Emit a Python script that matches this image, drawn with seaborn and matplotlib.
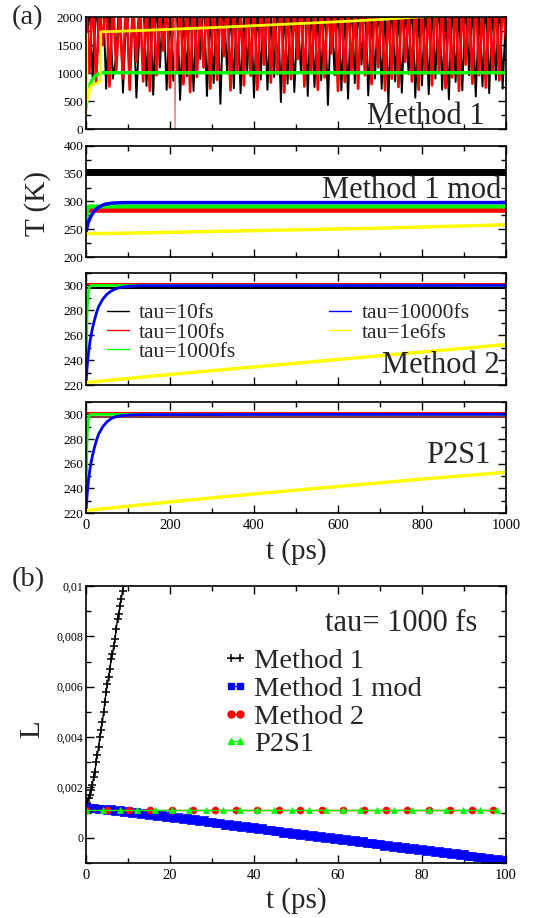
import numpy as np
import matplotlib
matplotlib.use("Agg")
import matplotlib.pyplot as plt
from matplotlib.lines import Line2D
from matplotlib.ticker import MultipleLocator
import seaborn as sns

# ---------------- data ----------------
# Panel (a) Method 1 : spiky thermostat traces
m1_black = [950, 2400, 880, 2300, 1350, 2500, 720, 2200, 900, 1300, 2450, 650, 2100, 980, 2350, 560,
            1900, 2500, 770, 2250, 610, 2400, 1100, 2300, 700, 2150, 860, 2450, 520, 2050, 940, 2350,
            680, 2200, 1250, 2500, 590, 2100, 820, 2400, 450, 2300, 990, 2150, 730, 2450, 640, 2000,
            1050, 2350, 560, 2250, 880, 2400, 700, 2100, 930, 2500, 480, 2200, 810, 2350, 660, 2050,
            1000, 2450, 590, 2300, 750, 2150, 870, 2400, 430, 2200, 960, 2350, 690, 2100, 540, 2450,
            820, 2250, 1150, 2400, 600, 2050, 900, 2350, 720, 2200, 460, 2450, 850, 2150, 650, 2300,
            980, 2400, 560, 2100, 780, 2350, 620, 2250, 900, 2450, 700, 2100, 530, 2350, 840, 2200,
            690, 2400, 960, 2300, 580, 2150, 760, 2450, 640, 2250, 880, 2400, 720, 2100]
m1_red = [2300, 1000, 2450, 820, 2200, 1500, 2400, 760, 2350, 1050, 2150, 900, 2500, 700, 2300, 1200,
          2400, 850, 2250, 680, 2450, 960, 2100, 1400, 2350, 740, 2200, 1000, 2400, 800, 2300, 660,
          2500, 930, 2150, 1100, 2350, 720, 2450, 880, 2200, 1300, 2400, 690, 2300, 1020, 2150, 780,
          2450, 950, 2350, 700, 2250, 1150, 2400, 830, 2100, 980, 2450, 650, 2300, 890, 2200, 1250,
          2400, 760, 2350, 1000, 2150, 700, 2450, 920, 2300, 1350, 2200, 680, 2400, 840, 2350, 1050,
          2150, 720, 2450, 960, 2250, 800, 2400, 1100, 2300, 690, 2200, 900, 2450, 750, 2350, 1200,
          2150, 850, 2400, 700, 2300, 990, 2200, 780, 2450, 1050, 2350, 730, 2150, 920, 2400, 680,
          2300, 1150, 2250, 810, 2450, 960, 2200, 740, 2350, 1000, 2400, 870, 2300, 1600]
m1_reddip_t = [210, 212, 214]
m1_reddip_T = [2100, 0, 2100]
m1_green_t = [0, 3, 6, 10, 15, 20, 25, 32, 40, 1000]
m1_green_T = [390, 560, 700, 800, 880, 930, 965, 995, 1005, 1005]
m1_yellow_t = [0, 1, 2, 3, 5, 8, 12, 18, 25, 32, 34, 35, 100, 200, 300, 400, 500, 600, 700, 790, 1000]
m1_yellow_T = [300, 1700, 900, 500, 560, 680, 770, 800, 810, 850, 860, 1735, 1750, 1780, 1810, 1845,
               1880, 1915, 1955, 2000, 2060]

# Panel (a) Method 1 mod
mm_black_t = [0, 1000]
mm_black_T = [354, 354]
mm_red_t = [4, 1000]
mm_red_T = [285.5, 285.5]
mm_green_t = [0, 2, 4, 8, 1000]
mm_green_T = [262, 280, 289, 291, 291]
mm_blue_t = [0, 5, 12, 20, 30, 45, 60, 80, 100, 1000]
mm_blue_T = [245, 262, 274, 283, 290, 295, 297, 297.8, 298, 298]
mm_yellow_t = [0, 100, 200, 300, 400, 500, 600, 700, 800, 900, 1000]
mm_yellow_T = [242, 243, 244.5, 246, 247.5, 249, 250.5, 252, 254, 256, 258]

# Panel (a) Method 2
m2_black_t = [0, 1000]
m2_black_T = [298, 298]
m2_red_t = [0, 1000]
m2_red_T = [301, 301]
m2_green_t = [0, 1, 2, 3, 5, 8, 12, 40, 1000]
m2_green_T = [222, 250, 270, 283, 293, 298.5, 300, 300, 300]
m2_blue_t = [0, 3, 6, 10, 15, 20, 25, 30, 40, 50, 60, 70, 80, 100, 130, 1000]
m2_blue_T = [222, 236, 246, 256, 265, 272, 278, 283, 289, 293, 295.5, 297.2, 298.3, 299.3, 299.8, 300]
m2_yellow_t = [0, 200, 400, 600, 800, 1000]
m2_yellow_T = [222, 228.5, 234.5, 240.5, 246.5, 252.5]

# Panel (a) P2S1
p2_black_t = [0, 1000]
p2_black_T = [298, 298]
p2_red_t = [0, 1000]
p2_red_T = [301, 301]
p2_green_t = [0, 1, 2, 3, 5, 8, 12, 40, 1000]
p2_green_T = [222, 252, 272, 285, 294, 299, 300, 300, 300]
p2_blue_t = [0, 3, 6, 10, 15, 20, 25, 30, 40, 50, 60, 70, 80, 100, 130, 1000]
p2_blue_T = [222, 236, 247, 257, 266, 273, 279, 284, 290, 294, 296.5, 298, 298.8, 299.4, 299.8, 300]
p2_yellow_t = [0, 200, 400, 600, 800, 1000]
p2_yellow_T = [222, 229, 235.5, 241.5, 247.5, 253]

tau_labels = ["tau=10fs", "tau=100fs", "tau=1000fs", "tau=10000fs", "tau=1e6fs"]
tau_colors = ["black", "red", "#00ff00", "blue", "yellow"]

# Panel (b): L vs t, tau = 1000 fs
b_m1_t = [0, 0.3, 0.6, 0.9, 1.2, 1.5, 1.8, 2.1, 2.4, 2.7, 3.0, 3.3, 3.6, 3.9, 4.2, 4.5, 4.8, 5.1,
          5.4, 5.7, 6.0, 6.3, 6.6, 6.9, 7.2, 7.5, 7.8, 8.1, 8.4, 8.7, 9.0]
b_m1_L = [0.0012, 0.0014, 0.0016, 0.0017, 0.0019, 0.0021, 0.0024, 0.0026, 0.0030, 0.0033, 0.0036,
          0.0040, 0.0043, 0.0046, 0.0050, 0.0054, 0.0058, 0.0061, 0.0064, 0.0067, 0.0071, 0.0073,
          0.0076, 0.0079, 0.0083, 0.0087, 0.0089, 0.0092, 0.0095, 0.0098, 0.0101]
b_mod_t = list(range(0, 101))
b_mod_L_e4 = [12.2, 11.7, 12.0, 11.3, 11.6, 11.0, 11.4, 10.7, 10.9, 10.4, 10.6, 9.9, 10.1, 9.5, 9.8,
              9.1, 9.3, 8.7, 9.0, 8.2, 8.5, 7.8, 8.1, 7.4, 7.7, 7.0, 7.3, 6.5, 6.9, 6.1, 6.4, 5.7,
              6.0, 5.2, 5.5, 4.8, 5.1, 4.3, 4.6, 3.9, 4.2, 3.4, 3.8, 3.0, 3.3, 2.6, 2.9, 2.1, 2.5,
              1.7, 2.0, 1.3, 1.6, 0.8, 1.2, 0.4, 0.7, -0.1, 0.3, -0.5, -0.2, -0.9, -0.6, -1.3, -1.0,
              -1.8, -1.4, -2.2, -1.9, -2.6, -2.3, -3.1, -2.7, -3.5, -3.2, -3.9, -3.6, -4.4, -4.0,
              -4.8, -4.5, -5.2, -4.9, -5.7, -5.3, -6.1, -5.8, -6.5, -6.2, -7.0, -6.6, -7.4, -7.1,
              -7.8, -7.5, -8.3, -7.9, -8.7, -8.4, -9.1, -8.8]
b_m2_t = [0, 5.1, 10.2, 15.3, 20.4, 25.5, 30.6, 35.7, 40.8, 45.9, 51.0, 56.1, 61.2, 66.3, 71.4,
          76.5, 81.6, 86.7, 91.8, 96.9]
b_m2_L = [0.0011] * len(b_m2_t)
b_p2_t = [0, 4.08, 8.16, 12.24, 16.32, 20.4, 24.48, 28.56, 32.64, 36.72, 40.8, 44.88, 48.96, 53.04,
          57.12, 61.2, 65.28, 69.36, 73.44, 77.52, 81.6, 85.68, 89.76, 93.84, 97.92]
b_p2_L = [0.0011] * len(b_p2_t)
b_labels = ["Method 1", "Method 1 mod", "Method 2", "P2S1"]
b_ytick_vals = [0, 0.002, 0.004, 0.006, 0.008, 0.01]
b_ytick_labels = ["0", "0,002", "0,004", "0,006", "0,008", "0,01"]

# ---------------- style ----------------
sns.set_theme(style="ticks")
plt.rcParams["font.family"] = ["Liberation Serif", "DejaVu Serif"]
plt.rcParams["axes.linewidth"] = 1.2
plt.rcParams["axes.edgecolor"] = "black"

GREEN = "#00ff00"
W, H = 544, 918
fig = plt.figure(figsize=(W / 100, H / 100), dpi=100)


def add_ax(top, bottom):
    return fig.add_axes([86 / W, (H - bottom) / H, 420 / W, (bottom - top) / H])


def line(ax, x, y, color, lw, **kw):
    sns.lineplot(x=np.asarray(x, float), y=np.asarray(y, float), ax=ax, color=color,
                 linewidth=lw, sort=False, estimator=None, errorbar=None, legend=False, **kw)


def style(ax, xlim, ylim, xmaj, xmin, ymaj, ymin, xlabels=True, ysize=9.5):
    ax.set_xlim(*xlim)
    ax.set_ylim(*ylim)
    ax.xaxis.set_major_locator(MultipleLocator(xmaj))
    ax.xaxis.set_minor_locator(MultipleLocator(xmin))
    ax.yaxis.set_major_locator(MultipleLocator(ymaj))
    ax.yaxis.set_minor_locator(MultipleLocator(ymin))
    ax.tick_params(which="both", direction="in", top=True, right=True, width=1.0, colors="black")
    ax.tick_params(which="major", length=6)
    ax.tick_params(which="minor", length=3.5)
    ax.tick_params(axis="y", labelsize=ysize, pad=2)
    ax.tick_params(axis="x", labelsize=10.5, pad=4)
    if not xlabels:
        ax.tick_params(axis="x", labelbottom=False)
    ax.set_xlabel("")
    ax.set_ylabel("")
    for s in ax.spines.values():
        s.set_visible(True)
        s.set_linewidth(1.2)


ANN = 22

# Panel 1: Method 1
ax1 = add_ax(17, 129)
t_black = np.linspace(0, 1000, len(m1_black))
t_red = np.linspace(0, 1000, len(m1_red))
line(ax1, t_black, m1_black, "black", 1.4)
line(ax1, t_red, m1_red, "red", 1.9)
line(ax1, m1_reddip_t, m1_reddip_T, "#ff6060", 0.8)
line(ax1, m1_green_t, m1_green_T, GREEN, 2.5)
line(ax1, m1_yellow_t, m1_yellow_T, "yellow", 2.0)
style(ax1, (0, 1000), (0, 2000), 200, 100, 500, 250, xlabels=False)
ax1.text(0.95, 0.045, "Method 1", transform=ax1.transAxes, ha="right", va="baseline", fontsize=ANN)

# Panel 2: Method 1 mod
ax2 = add_ax(146, 257)
line(ax2, mm_black_t, mm_black_T, "black", 5)
line(ax2, mm_red_t, mm_red_T, "red", 4)
line(ax2, mm_green_t, mm_green_T, GREEN, 3)
line(ax2, mm_blue_t, mm_blue_T, "blue", 2.5)
line(ax2, mm_yellow_t, mm_yellow_T, "yellow", 2.5)
style(ax2, (0, 1000), (200, 400), 200, 100, 50, 25, xlabels=False)
ax2.text(0.99, 0.53, "Method 1 mod", transform=ax2.transAxes, ha="right", va="baseline", fontsize=ANN)

# Panel 3: Method 2
ax3 = add_ax(273, 385)
line(ax3, m2_black_t, m2_black_T, "black", 1.5)
line(ax3, m2_red_t, m2_red_T, "red", 1.5)
line(ax3, m2_green_t, m2_green_T, GREEN, 2)
line(ax3, m2_blue_t, m2_blue_T, "blue", 2)
line(ax3, m2_yellow_t, m2_yellow_T, "yellow", 2.5)
style(ax3, (0, 1000), (220, 310), 200, 100, 20, 10, xlabels=False)
ax3.text(0.986, 0.107, "Method 2", transform=ax3.transAxes, ha="right", va="baseline", fontsize=ANN)
handles = [Line2D([0], [0], color=c, lw=1.0) for c in tau_colors]
ax3.legend(handles, tau_labels, ncol=2, loc="upper left", bbox_to_anchor=(0.05, 0.73),
           frameon=False, fontsize=15.5, handlelength=1.0, handletextpad=0.5,
           columnspacing=4.3, labelspacing=-0.04, borderpad=0, borderaxespad=0)

# Panel 4: P2S1
ax4 = add_ax(402, 513)
line(ax4, p2_black_t, p2_black_T, "#8b3a3a", 1.5)
line(ax4, p2_red_t, p2_red_T, "red", 1.5)
line(ax4, p2_green_t, p2_green_T, GREEN, 2)
line(ax4, p2_blue_t, p2_blue_T, "blue", 2)
line(ax4, p2_yellow_t, p2_yellow_T, "yellow", 2.5)
style(ax4, (0, 1000), (220, 310), 200, 100, 20, 10, xlabels=True)
ax4.text(0.964, 0.45, "P2S1", transform=ax4.transAxes, ha="right", va="baseline", fontsize=ANN)

fig.text(38 / W, (H - 203) / H, "T (K)", rotation=90, ha="center", va="center", fontsize=21)
fig.text(296 / W, (H - 552) / H, "t (ps)", ha="center", va="center", fontsize=21)
fig.text(12 / W, (H - 24) / H, "(a)", ha="left", va="baseline", fontsize=20.5)

# Panel (b)
axb = add_ax(586, 863)
line(axb, b_m1_t, b_m1_L, "black", 1.0, marker="+", markersize=6, markeredgewidth=1.1,
     markeredgecolor="black")
b_mod_L = np.asarray(b_mod_L_e4) * 1e-4
line(axb, b_mod_t, b_mod_L, "blue", 1.0, marker="s", markersize=6, markeredgewidth=0.5,
     markeredgecolor="blue")
line(axb, b_m2_t, b_m2_L, "red", 1.0, marker="o", markersize=5, markeredgewidth=0.5,
     markeredgecolor="red")
line(axb, b_p2_t, b_p2_L, GREEN, 1.0, marker="^", markersize=5, markeredgewidth=0.5,
     markeredgecolor=GREEN)
style(axb, (0, 100), (-0.001, 0.01), 20, 10, 0.002, 0.001, xlabels=True, ysize=8.5)
axb.set_yticks(b_ytick_vals, b_ytick_labels)
axb.yaxis.set_minor_locator(MultipleLocator(0.001))
axb.text(0.933, 0.838, "tau= 1000 fs", transform=axb.transAxes, ha="right", va="baseline", fontsize=ANN)
bh = [Line2D([0], [0], color="black", lw=1, marker="+", ms=6, mew=1.1),
      Line2D([0], [0], color="blue", lw=1, marker="s", ms=5),
      Line2D([0], [0], color="red", lw=1, marker="o", ms=5),
      Line2D([0], [0], color=GREEN, lw=1, marker="^", ms=5)]
axb.legend(bh, b_labels, loc="upper left", bbox_to_anchor=(0.326, 0.775), frameon=False,
           fontsize=20.5, numpoints=2, handlelength=0.9, handletextpad=0.2,
           labelspacing=0.06, borderpad=0, borderaxespad=0)

fig.text(32 / W, (H - 729) / H, "L", rotation=90, ha="center", va="center", fontsize=21)
fig.text(296 / W, (H - 901) / H, "t (ps)", ha="center", va="center", fontsize=21)
fig.text(12 / W, (H - 586) / H, "(b)", ha="left", va="baseline", fontsize=20.5)

fig.savefig("out.png", dpi=100)
